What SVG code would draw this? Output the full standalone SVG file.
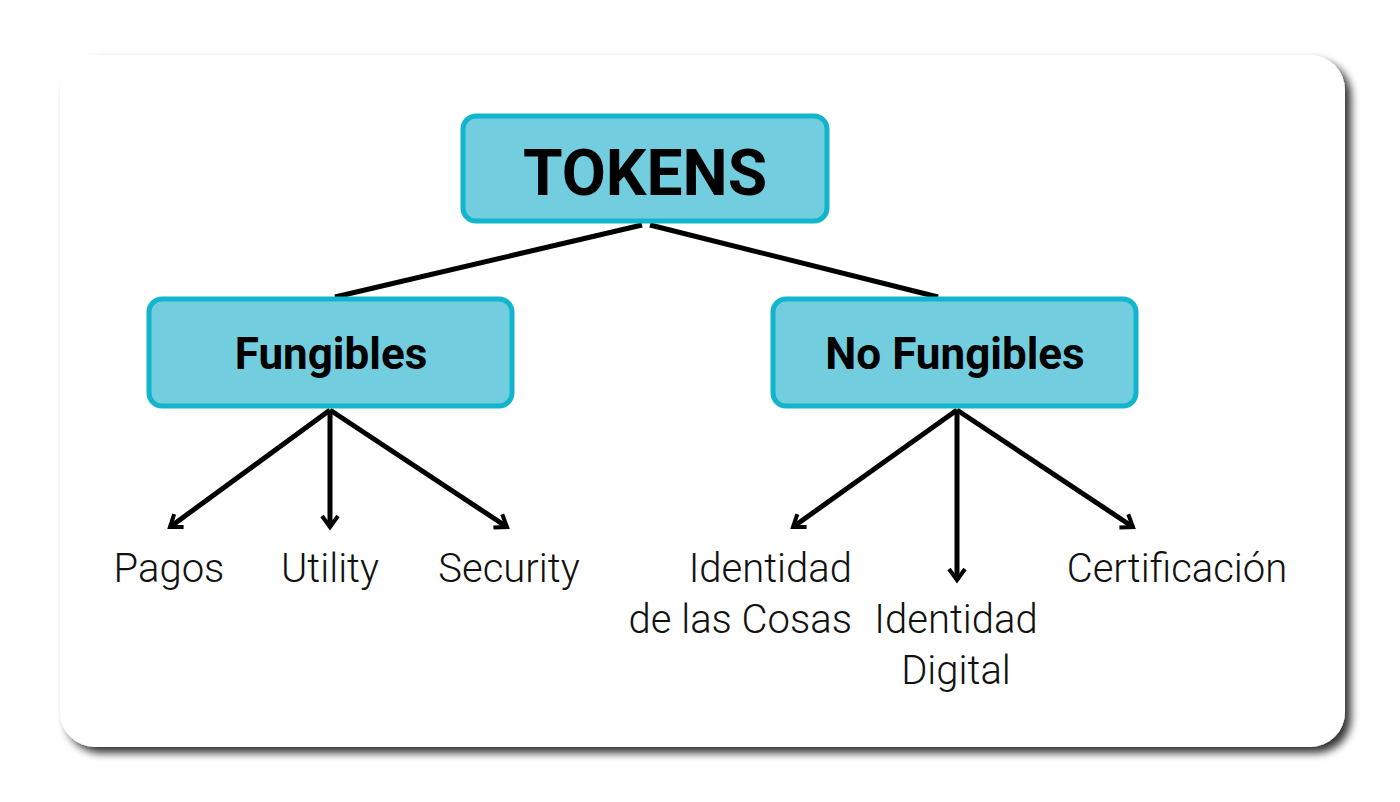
<svg xmlns="http://www.w3.org/2000/svg" width="1400" height="802" viewBox="0 0 1400 802">
<defs>
<filter id="sh" x="-5%" y="-5%" width="112%" height="115%"><feGaussianBlur in="SourceAlpha" stdDeviation="4"/><feOffset dx="6" dy="6"/><feComponentTransfer><feFuncA type="linear" slope="0.8"/></feComponentTransfer><feMerge><feMergeNode/><feMergeNode in="SourceGraphic"/></feMerge></filter>
<marker id="ar" viewBox="0 0 20 20" refX="16" refY="10" markerWidth="20" markerHeight="20" markerUnits="userSpaceOnUse" orient="auto"><path d="M5,2 L16,10 L5,18" fill="none" stroke="#000" stroke-width="4"/></marker>
</defs>
<style>
.n{fill:#72CEDF;stroke:#12B5CC;stroke-width:5}
.t{font-family:Roboto,"Liberation Sans",sans-serif;font-weight:bold;fill:#000;text-anchor:middle}
.l{font-family:Roboto,"Liberation Sans",sans-serif;font-weight:300;font-size:40px;fill:#111;text-anchor:middle}
.c{stroke:#000;stroke-width:5;fill:none}
</style>
<rect width="1400" height="802" fill="#fff"/>
<rect x="60" y="55" width="1285" height="692" rx="35" fill="#fff" filter="url(#sh)"/>
<g id="connectors">
<line class="c" x1="642" y1="225" x2="335" y2="297"/>
<line class="c" x1="650" y1="225" x2="938" y2="297"/>
<line class="c" x1="330" y1="410" x2="170" y2="527" marker-end="url(#ar)"/>
<line class="c" x1="330" y1="410" x2="330" y2="527" marker-end="url(#ar)"/>
<line class="c" x1="330" y1="410" x2="507" y2="527" marker-end="url(#ar)"/>
<line class="c" x1="957" y1="410" x2="793" y2="527" marker-end="url(#ar)"/>
<line class="c" x1="957" y1="410" x2="957" y2="580" marker-end="url(#ar)"/>
<line class="c" x1="957" y1="410" x2="1133" y2="527" marker-end="url(#ar)"/>
</g>
<g id="tokens"><rect class="n" x="463" y="116" width="364" height="105" rx="13"/><text class="t" x="645" y="195" font-size="64">TOKENS</text></g>
<g id="fungibles"><rect class="n" x="149" y="299" width="363" height="107" rx="13"/><text class="t" x="331" y="369" font-size="44">Fungibles</text></g>
<g id="nofungibles"><rect class="n" x="773" y="299" width="363" height="107" rx="13"/><text class="t" x="955" y="369" font-size="44">No Fungibles</text></g>
<g id="pagos"><text class="l" x="169" y="582">Pagos</text></g>
<g id="utility"><text class="l" x="330" y="582">Utility</text></g>
<g id="security"><text class="l" x="509" y="582">Security</text></g>
<g id="idcosas"><text class="l" x="852" y="582" text-anchor="end" style="text-anchor:end">Identidad</text><text class="l" x="852" y="633" style="text-anchor:end">de las Cosas</text></g>
<g id="iddigital"><text class="l" x="956" y="633">Identidad</text><text class="l" x="956" y="684">Digital</text></g>
<g id="cert"><text class="l" x="1177" y="582">Certificación</text></g>
</svg>
